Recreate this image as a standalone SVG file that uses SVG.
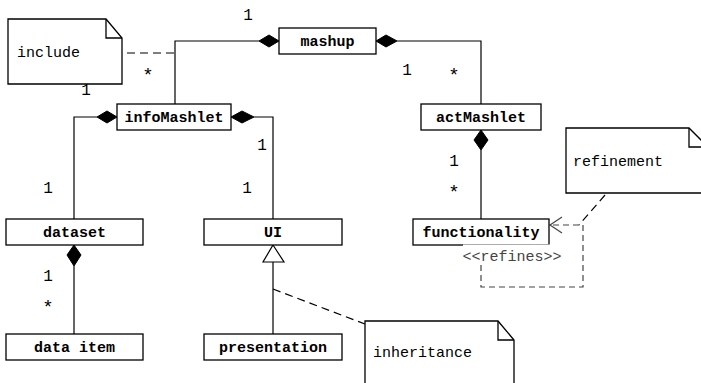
<svg xmlns="http://www.w3.org/2000/svg" width="701" height="383" viewBox="0 0 701 383">
<style>
.box{fill:#fff;stroke:#000;stroke-width:1.3}
.note{fill:#fff;stroke:#000;stroke-width:1.3}
.fold{fill:none;stroke:#000;stroke-width:1.3}
.lbl{font-family:"Liberation Mono",monospace;font-size:15px;font-weight:bold;text-anchor:middle;fill:#000}
.ntxt{font-family:"Liberation Mono",monospace;font-size:15px;fill:#000}
.mult{font-family:"Liberation Mono",monospace;font-size:16px;text-anchor:middle;fill:#000}
.star{font-family:"Liberation Mono",monospace;font-size:19px;text-anchor:middle;fill:#000}
.line{fill:none;stroke:#000;stroke-width:1.2}
.dash{fill:none;stroke:#000;stroke-width:1.2;stroke-dasharray:8,5}
.gdash{fill:none;stroke:#444;stroke-width:1.2;stroke-dasharray:6,4}
.dia{fill:#000;stroke:#000;stroke-width:1}
</style>

<g id="connectors">
  <polyline class="line" points="259,41 175,41 175,104"/>
  <polygon class="dia" points="279,41 269,35 259,41 269,47"/>
  <polyline class="line" points="397,41 481,41 481,104"/>
  <polygon class="dia" points="376,41 386,35 397,41 386,47"/>
  <line class="dash" x1="127" y1="53" x2="175" y2="53"/>
  <polyline class="line" points="97,117 74,117 74,219"/>
  <polygon class="dia" points="117,117 107,111 97,117 107,123"/>
  <polyline class="line" points="254,117 273,117 273,219"/>
  <polygon class="dia" points="231,117 242,111 254,117 242,123"/>
  <line class="line" x1="481" y1="150" x2="481" y2="219"/>
  <polygon class="dia" points="481,130 488,140 481,150 474,140"/>
  <line class="line" x1="74" y1="266" x2="74" y2="334"/>
  <polygon class="dia" points="74,245 81,255 74,266 67,255"/>
  <line class="line" x1="273" y1="262" x2="273" y2="334"/>
  <polygon points="273,245 284,262 263,262" fill="#fff" stroke="#000" stroke-width="1.2"/>
  <line class="dash" x1="273" y1="289" x2="365" y2="324"/>
  <line class="dash" x1="605" y1="195" x2="579" y2="225"/>
  <polyline class="gdash" points="481,265 481,287 583,287 583,225 551,225"/>
  <polyline fill="none" stroke="#444" stroke-width="1.2" points="562,217 550,225 562,233"/>
</g>

<g id="note-include">
  <path class="note" d="M8,19 H106 L122,38 V84 H8 Z"/>
  <polyline class="fold" points="106,19 106,38 122,38"/>
  <text class="ntxt" x="17" y="57">include</text>
</g>

<g id="note-refinement">
  <path class="note" d="M566,128 H689 L708,147 V193 H566 Z"/>
  <polyline class="fold" points="689,128 689,147 708,147"/>
  <text class="ntxt" x="573" y="166">refinement</text>
</g>

<g id="note-inheritance">
  <path class="note" d="M365,321 H498 L514,340 V395 H365 Z"/>
  <polyline class="fold" points="498,321 498,340 514,340"/>
  <text class="ntxt" x="373" y="357">inheritance</text>
</g>

<g id="mashup">
  <rect class="box" x="279" y="28" width="97" height="26"/>
  <text class="lbl" x="327.5" y="46">mashup</text>
</g>

<g id="infoMashlet">
  <rect class="box" x="117" y="104" width="114" height="26"/>
  <text class="lbl" x="174" y="122">infoMashlet</text>
</g>

<g id="actMashlet">
  <rect class="box" x="421" y="104" width="120" height="26"/>
  <text class="lbl" x="481" y="122">actMashlet</text>
</g>

<g id="dataset">
  <rect class="box" x="6" y="219" width="137" height="26"/>
  <text class="lbl" x="74.5" y="237">dataset</text>
</g>

<g id="UI">
  <rect class="box" x="204" y="219" width="138" height="26"/>
  <text class="lbl" x="273" y="237">UI</text>
</g>

<g id="functionality">
  <rect class="box" x="413" y="219" width="136" height="26"/>
  <rect x="463" y="244.5" width="99" height="19" fill="#fff"/>
  <text class="lbl" x="481" y="237">functionality</text>
  <text class="ntxt" x="512" y="261" text-anchor="middle" style="fill:#444">&lt;&lt;refines&gt;&gt;</text>
</g>

<g id="data-item">
  <rect class="box" x="6" y="334" width="137" height="26"/>
  <text class="lbl" x="74.5" y="352">data item</text>
</g>

<g id="presentation">
  <rect class="box" x="204" y="334" width="138" height="26"/>
  <text class="lbl" x="273" y="352">presentation</text>
</g>

<g id="multiplicities">
  <text class="mult" x="248" y="20">1</text>
  <text class="mult" x="86" y="95">1</text>
  <text class="star" x="148" y="81">*</text>
  <text class="mult" x="407" y="75">1</text>
  <text class="star" x="454" y="81">*</text>
  <text class="mult" x="262" y="150">1</text>
  <text class="mult" x="48" y="193">1</text>
  <text class="mult" x="247" y="193">1</text>
  <text class="mult" x="454" y="166">1</text>
  <text class="star" x="454" y="198">*</text>
  <text class="mult" x="48" y="281">1</text>
  <text class="star" x="48" y="313">*</text>
</g>
</svg>
